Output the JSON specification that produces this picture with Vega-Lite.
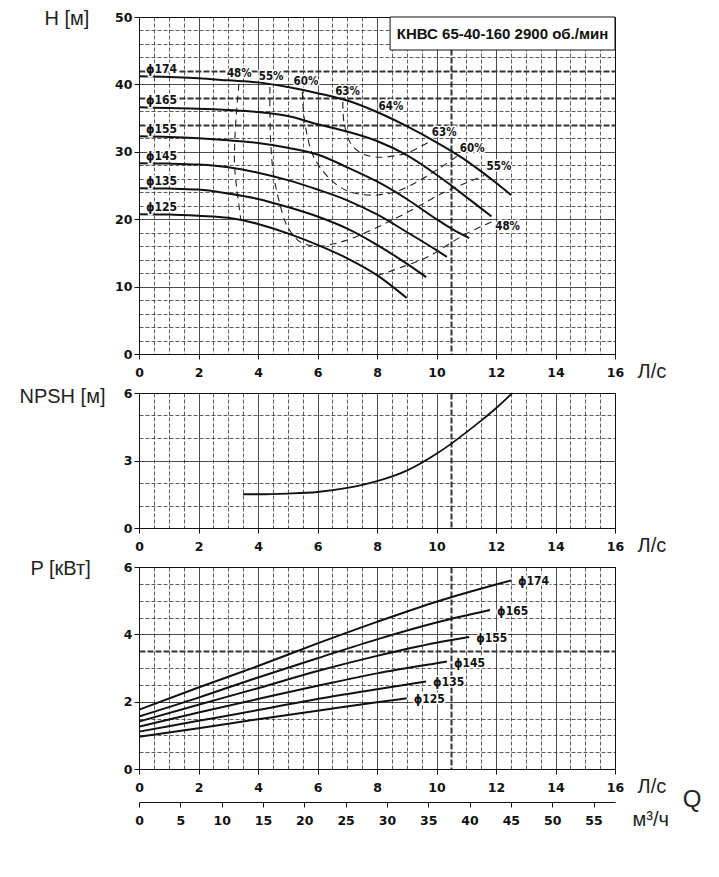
{
  "$schema": "https://vega.github.io/schema/vega-lite/v6.json",
  "background": "white",
  "padding": {"left": 18, "top": 7, "right": 5, "bottom": 5},
  "bounds": "flush",
  "spacing": 39,
  "datasets": {
    "head": [
      {"d": "ϕ174", "q": 0, "h": 41.2}, {"d": "ϕ174", "q": 1, "h": 41.1}, {"d": "ϕ174", "q": 2, "h": 40.9}, {"d": "ϕ174", "q": 3, "h": 40.6},
      {"d": "ϕ174", "q": 4, "h": 40.3}, {"d": "ϕ174", "q": 5, "h": 39.6}, {"d": "ϕ174", "q": 6, "h": 38.7}, {"d": "ϕ174", "q": 7, "h": 37.6},
      {"d": "ϕ174", "q": 8, "h": 35.9}, {"d": "ϕ174", "q": 9, "h": 33.8}, {"d": "ϕ174", "q": 10, "h": 31.4}, {"d": "ϕ174", "q": 10.5, "h": 30.1},
      {"d": "ϕ174", "q": 11, "h": 28.7}, {"d": "ϕ174", "q": 11.5, "h": 27.1}, {"d": "ϕ174", "q": 12, "h": 25.4}, {"d": "ϕ174", "q": 12.5, "h": 23.6},
      {"d": "ϕ165", "q": 0, "h": 36.6}, {"d": "ϕ165", "q": 1, "h": 36.5}, {"d": "ϕ165", "q": 2, "h": 36.4}, {"d": "ϕ165", "q": 3, "h": 36.2},
      {"d": "ϕ165", "q": 4, "h": 35.9}, {"d": "ϕ165", "q": 5, "h": 35.3}, {"d": "ϕ165", "q": 6, "h": 34.1}, {"d": "ϕ165", "q": 7, "h": 33.0},
      {"d": "ϕ165", "q": 8, "h": 31.6}, {"d": "ϕ165", "q": 9, "h": 29.5}, {"d": "ϕ165", "q": 10, "h": 26.6}, {"d": "ϕ165", "q": 10.5, "h": 25.0},
      {"d": "ϕ165", "q": 11, "h": 23.3}, {"d": "ϕ165", "q": 11.5, "h": 21.6}, {"d": "ϕ165", "q": 11.85, "h": 20.4},
      {"d": "ϕ155", "q": 0, "h": 32.3}, {"d": "ϕ155", "q": 1, "h": 32.2}, {"d": "ϕ155", "q": 2, "h": 32.0}, {"d": "ϕ155", "q": 3, "h": 31.7},
      {"d": "ϕ155", "q": 4, "h": 31.3}, {"d": "ϕ155", "q": 5, "h": 30.6}, {"d": "ϕ155", "q": 6, "h": 29.6}, {"d": "ϕ155", "q": 7, "h": 27.7},
      {"d": "ϕ155", "q": 8, "h": 25.6}, {"d": "ϕ155", "q": 9, "h": 23.0}, {"d": "ϕ155", "q": 10, "h": 20.0}, {"d": "ϕ155", "q": 10.5, "h": 18.6},
      {"d": "ϕ155", "q": 11.1, "h": 17.2},
      {"d": "ϕ145", "q": 0, "h": 28.3}, {"d": "ϕ145", "q": 1, "h": 28.25}, {"d": "ϕ145", "q": 2, "h": 28.1}, {"d": "ϕ145", "q": 3, "h": 27.7},
      {"d": "ϕ145", "q": 4, "h": 26.9}, {"d": "ϕ145", "q": 5, "h": 25.8}, {"d": "ϕ145", "q": 6, "h": 24.4}, {"d": "ϕ145", "q": 7, "h": 22.8},
      {"d": "ϕ145", "q": 8, "h": 20.7}, {"d": "ϕ145", "q": 9, "h": 18.1}, {"d": "ϕ145", "q": 10, "h": 15.4}, {"d": "ϕ145", "q": 10.35, "h": 14.4},
      {"d": "ϕ135", "q": 0, "h": 24.6}, {"d": "ϕ135", "q": 1, "h": 24.55}, {"d": "ϕ135", "q": 2, "h": 24.4}, {"d": "ϕ135", "q": 3, "h": 23.8},
      {"d": "ϕ135", "q": 4, "h": 23.0}, {"d": "ϕ135", "q": 5, "h": 21.8}, {"d": "ϕ135", "q": 6, "h": 20.4}, {"d": "ϕ135", "q": 7, "h": 18.6},
      {"d": "ϕ135", "q": 8, "h": 16.2}, {"d": "ϕ135", "q": 9, "h": 13.4}, {"d": "ϕ135", "q": 9.65, "h": 11.4},
      {"d": "ϕ125", "q": 0, "h": 20.75}, {"d": "ϕ125", "q": 1, "h": 20.7}, {"d": "ϕ125", "q": 2, "h": 20.5}, {"d": "ϕ125", "q": 3, "h": 20.2},
      {"d": "ϕ125", "q": 4, "h": 19.3}, {"d": "ϕ125", "q": 5, "h": 17.9}, {"d": "ϕ125", "q": 6, "h": 16.2}, {"d": "ϕ125", "q": 7, "h": 14.2},
      {"d": "ϕ125", "q": 8, "h": 11.7}, {"d": "ϕ125", "q": 9, "h": 8.3}
    ],
    "eff": [
      {"e": "48L", "i": 0, "q": 3.36, "h": 40.1}, {"e": "48L", "i": 1, "q": 3.28, "h": 36.1}, {"e": "48L", "i": 2, "q": 3.22, "h": 31.6},
      {"e": "48L", "i": 3, "q": 3.21, "h": 28.2}, {"e": "48L", "i": 4, "q": 3.28, "h": 24.7}, {"e": "48L", "i": 5, "q": 3.37, "h": 21.7},
      {"e": "48L", "i": 6, "q": 3.42, "h": 20.0},
      {"e": "48R", "i": 0, "q": 8.0, "h": 11.6}, {"e": "48R", "i": 1, "q": 8.9, "h": 13.0}, {"e": "48R", "i": 2, "q": 9.7, "h": 14.4},
      {"e": "48R", "i": 3, "q": 10.94, "h": 17.7}, {"e": "48R", "i": 4, "q": 11.85, "h": 19.6},
      {"e": "55", "i": 0, "q": 4.4, "h": 39.6}, {"e": "55", "i": 1, "q": 4.4, "h": 36.1}, {"e": "55", "i": 2, "q": 4.43, "h": 31.1},
      {"e": "55", "i": 3, "q": 4.52, "h": 26.7}, {"e": "55", "i": 4, "q": 4.71, "h": 22.7}, {"e": "55", "i": 5, "q": 4.99, "h": 18.9},
      {"e": "55", "i": 6, "q": 5.43, "h": 16.6}, {"e": "55", "i": 7, "q": 6.0, "h": 16.0}, {"e": "55", "i": 8, "q": 6.6, "h": 16.4},
      {"e": "55", "i": 9, "q": 7.24, "h": 17.3}, {"e": "55", "i": 10, "q": 8.2, "h": 19.2}, {"e": "55", "i": 11, "q": 9.14, "h": 21.3},
      {"e": "55", "i": 12, "q": 10.26, "h": 24.0}, {"e": "55", "i": 13, "q": 11.0, "h": 25.4}, {"e": "55", "i": 14, "q": 11.6, "h": 26.5},
      {"e": "60", "i": 0, "q": 5.49, "h": 38.9}, {"e": "60", "i": 1, "q": 5.55, "h": 35.1}, {"e": "60", "i": 2, "q": 5.8, "h": 30.0},
      {"e": "60", "i": 3, "q": 6.1, "h": 27.6}, {"e": "60", "i": 4, "q": 6.68, "h": 25.0}, {"e": "60", "i": 5, "q": 7.3, "h": 23.8},
      {"e": "60", "i": 6, "q": 8.02, "h": 23.6}, {"e": "60", "i": 7, "q": 8.7, "h": 24.2}, {"e": "60", "i": 8, "q": 9.37, "h": 25.6},
      {"e": "60", "i": 9, "q": 10.04, "h": 27.4}, {"e": "60", "i": 10, "q": 10.71, "h": 29.4},
      {"e": "63", "i": 0, "q": 6.85, "h": 37.4}, {"e": "63", "i": 1, "q": 6.9, "h": 34.1}, {"e": "63", "i": 2, "q": 7.15, "h": 31.0},
      {"e": "63", "i": 3, "q": 7.57, "h": 29.6}, {"e": "63", "i": 4, "q": 8.1, "h": 29.2}, {"e": "63", "i": 5, "q": 8.58, "h": 29.4},
      {"e": "63", "i": 6, "q": 9.03, "h": 29.85}, {"e": "63", "i": 7, "q": 9.8, "h": 31.6}
    ],
    "effLabels": [
      {"t": "48%", "q": 3.37, "h": 41.6}, {"t": "55%", "q": 4.44, "h": 41.1}, {"t": "60%", "q": 5.61, "h": 40.3},
      {"t": "63%", "q": 7.01, "h": 38.9}, {"t": "64%", "q": 8.47, "h": 36.6}, {"t": "63%", "q": 10.26, "h": 32.8},
      {"t": "60%", "q": 11.2, "h": 30.4}, {"t": "55%", "q": 12.1, "h": 27.7}, {"t": "48%", "q": 12.39, "h": 18.8}
    ],
    "box": [
      {"q": 8.44, "q2": 16, "h": 45.1, "h2": 50}
    ],
    "boxText": [
      {"t": "КНВС 65-40-160 2900 об./мин", "q": 12.22, "h": 47.55}
    ],
    "npsh": [
      {"q": 3.5, "h": 1.5}, {"q": 4, "h": 1.5}, {"q": 5, "h": 1.53}, {"q": 6, "h": 1.6}, {"q": 7, "h": 1.78},
      {"q": 8, "h": 2.08}, {"q": 9, "h": 2.55}, {"q": 10, "h": 3.3}, {"q": 10.5, "h": 3.75}, {"q": 11, "h": 4.25},
      {"q": 11.5, "h": 4.77}, {"q": 12, "h": 5.32}, {"q": 12.55, "h": 6.0}
    ],
    "power": [
      {"d": "ϕ174", "q": 0, "h": 1.76}, {"d": "ϕ174", "q": 2, "h": 2.42}, {"d": "ϕ174", "q": 4, "h": 3.06}, {"d": "ϕ174", "q": 6, "h": 3.73},
      {"d": "ϕ174", "q": 8, "h": 4.37}, {"d": "ϕ174", "q": 10, "h": 4.97}, {"d": "ϕ174", "q": 12, "h": 5.48}, {"d": "ϕ174", "q": 12.5, "h": 5.6},
      {"d": "ϕ165", "q": 0, "h": 1.56}, {"d": "ϕ165", "q": 2, "h": 2.12}, {"d": "ϕ165", "q": 4, "h": 2.72}, {"d": "ϕ165", "q": 6, "h": 3.29},
      {"d": "ϕ165", "q": 8, "h": 3.85}, {"d": "ϕ165", "q": 10, "h": 4.35}, {"d": "ϕ165", "q": 11.8, "h": 4.72},
      {"d": "ϕ155", "q": 0, "h": 1.41}, {"d": "ϕ155", "q": 2, "h": 1.91}, {"d": "ϕ155", "q": 4, "h": 2.4}, {"d": "ϕ155", "q": 6, "h": 2.91},
      {"d": "ϕ155", "q": 8, "h": 3.36}, {"d": "ϕ155", "q": 10, "h": 3.75}, {"d": "ϕ155", "q": 11.1, "h": 3.92},
      {"d": "ϕ145", "q": 0, "h": 1.26}, {"d": "ϕ145", "q": 2, "h": 1.68}, {"d": "ϕ145", "q": 4, "h": 2.08}, {"d": "ϕ145", "q": 6, "h": 2.47},
      {"d": "ϕ145", "q": 8, "h": 2.84}, {"d": "ϕ145", "q": 10, "h": 3.14}, {"d": "ϕ145", "q": 10.35, "h": 3.19},
      {"d": "ϕ135", "q": 0, "h": 1.11}, {"d": "ϕ135", "q": 2, "h": 1.43}, {"d": "ϕ135", "q": 4, "h": 1.75}, {"d": "ϕ135", "q": 6, "h": 2.08},
      {"d": "ϕ135", "q": 8, "h": 2.37}, {"d": "ϕ135", "q": 9.65, "h": 2.6},
      {"d": "ϕ125", "q": 0, "h": 0.96}, {"d": "ϕ125", "q": 2, "h": 1.21}, {"d": "ϕ125", "q": 4, "h": 1.48}, {"d": "ϕ125", "q": 6, "h": 1.73},
      {"d": "ϕ125", "q": 8, "h": 1.98}, {"d": "ϕ125", "q": 9.0, "h": 2.1}
    ]
  },
  "vconcat": [
    {
      "width": 476,
      "height": 337,
      "encoding": {
        "x": {
          "field": "q", "type": "quantitative",
          "scale": {"domain": [0, 16], "nice": false},
          "axis": {
            "values": [0, 0.5, 1, 1.5, 2, 2.5, 3, 3.5, 4, 4.5, 5, 5.5, 6, 6.5, 7, 7.5, 8, 8.5, 9, 9.5, 10, 10.5, 11, 11.5, 12, 12.5, 13, 13.5, 14, 14.5, 15, 15.5, 16],
            "labelExpr": "datum.value % 2 === 0 ? format(datum.value, 'd') : ''",
            "grid": true,
            "gridDash": {"condition": [{"test": "datum.value === 10.5", "value": [6, 2]}, {"test": "datum.value % 2 === 0", "value": [1, 0]}], "value": [4, 2]},
            "gridWidth": {"condition": [{"test": "datum.value === 10.5", "value": 2}, {"test": "datum.value % 2 === 0", "value": 1}], "value": 0.8},
            "gridColor": {"condition": {"test": "datum.value % 2 === 0", "value": "#111"}, "value": "#333"},
            "tickOpacity": {"condition": {"test": "datum.value % 2 === 0", "value": 1}, "value": 0},
            "title": "Л/с", "titleAngle": 0, "titleAlign": "left", "titleBaseline": "middle", "titleX": 498, "titleY": 17
          }
        },
        "y": {
          "field": "h", "type": "quantitative",
          "scale": {"domain": [0, 50], "nice": false},
          "axis": {
            "values": [0, 2, 4, 6, 8, 10, 12, 14, 16, 18, 20, 22, 24, 26, 28, 30, 32, 34, 36, 38, 40, 42, 44, 46, 48, 50],
            "labelExpr": "datum.value % 10 === 0 ? format(datum.value, 'd') : ''",
            "grid": true,
            "gridDash": {"condition": [{"test": "datum.value === 34 || datum.value === 38 || datum.value === 42", "value": [6, 2]}, {"test": "datum.value % 10 === 0", "value": [1, 0]}], "value": [4, 2]},
            "gridWidth": {"condition": [{"test": "datum.value === 34 || datum.value === 38 || datum.value === 42", "value": 1.8}, {"test": "datum.value % 10 === 0", "value": 1}], "value": 0.8},
            "gridColor": {"condition": {"test": "datum.value % 10 === 0", "value": "#111"}, "value": "#333"},
            "tickOpacity": {"condition": {"test": "datum.value % 10 === 0", "value": 1}, "value": 0},
            "title": "H [м]", "titleAngle": 0, "titleAlign": "left", "titleBaseline": "middle", "titleX": -95, "titleY": 1
          }
        }
      },
      "layer": [
        {
          "data": {"name": "eff"},
          "mark": {"type": "line", "stroke": "#222", "strokeWidth": 1.1, "strokeDash": [7, 5], "interpolate": "catmull-rom"},
          "encoding": {"detail": {"field": "e"}, "order": {"field": "i", "type": "quantitative"}}
        },
        {
          "data": {"name": "head"},
          "mark": {"type": "line", "stroke": "#111", "strokeWidth": 2, "interpolate": "monotone"},
          "encoding": {"detail": {"field": "d"}}
        },
        {
          "data": {"name": "head"},
          "transform": [{"filter": "datum.q === 0"}],
          "mark": {"type": "text", "align": "left", "baseline": "middle", "dx": 7, "dy": -7, "font": "DejaVu Sans Condensed", "fontWeight": "bold", "fontSize": 12, "fill": "white", "stroke": "white", "strokeWidth": 3},
          "encoding": {"text": {"field": "d"}}
        },
        {
          "data": {"name": "head"},
          "transform": [{"filter": "datum.q === 0"}],
          "mark": {"type": "text", "align": "left", "baseline": "middle", "dx": 7, "dy": -7, "font": "DejaVu Sans Condensed", "fontWeight": "bold", "fontSize": 12, "fill": "#111"},
          "encoding": {"text": {"field": "d"}}
        },
        {
          "data": {"name": "effLabels"},
          "mark": {"type": "text", "align": "center", "baseline": "middle", "font": "DejaVu Sans Condensed", "fontWeight": "bold", "fontSize": 11.5, "fill": "white", "stroke": "white", "strokeWidth": 3},
          "encoding": {"text": {"field": "t"}}
        },
        {
          "data": {"name": "effLabels"},
          "mark": {"type": "text", "align": "center", "baseline": "middle", "font": "DejaVu Sans Condensed", "fontWeight": "bold", "fontSize": 11.5, "fill": "#111"},
          "encoding": {"text": {"field": "t"}}
        },
        {
          "data": {"name": "box"},
          "mark": {"type": "rect", "fill": "white", "stroke": "#111", "strokeWidth": 1},
          "encoding": {
            "x2": {"field": "q2"},
            "y2": {"field": "h2"}
          }
        },
        {
          "data": {"name": "boxText"},
          "mark": {"type": "text", "font": "Liberation Sans", "fontWeight": "bold", "fontSize": 15, "fill": "#111", "align": "center", "baseline": "middle"},
          "encoding": {"text": {"field": "t"}}
        }
      ]
    },
    {
      "width": 476,
      "height": 135,
      "data": {"name": "npsh"},
      "mark": {"type": "line", "stroke": "#111", "strokeWidth": 1.8, "interpolate": "monotone"},
      "encoding": {
        "x": {
          "field": "q", "type": "quantitative",
          "scale": {"domain": [0, 16], "nice": false},
          "axis": {
            "values": [0, 0.5, 1, 1.5, 2, 2.5, 3, 3.5, 4, 4.5, 5, 5.5, 6, 6.5, 7, 7.5, 8, 8.5, 9, 9.5, 10, 10.5, 11, 11.5, 12, 12.5, 13, 13.5, 14, 14.5, 15, 15.5, 16],
            "labelExpr": "datum.value % 2 === 0 ? format(datum.value, 'd') : ''",
            "grid": true,
            "gridDash": {"condition": [{"test": "datum.value === 10.5", "value": [6, 2]}, {"test": "datum.value % 2 === 0", "value": [1, 0]}], "value": [4, 2]},
            "gridWidth": {"condition": [{"test": "datum.value === 10.5", "value": 2}, {"test": "datum.value % 2 === 0", "value": 1}], "value": 0.8},
            "gridColor": {"condition": {"test": "datum.value % 2 === 0", "value": "#111"}, "value": "#333"},
            "tickOpacity": {"condition": {"test": "datum.value % 2 === 0", "value": 1}, "value": 0},
            "title": "Л/с", "titleAngle": 0, "titleAlign": "left", "titleBaseline": "middle", "titleX": 498, "titleY": 17
          }
        },
        "y": {
          "field": "h", "type": "quantitative",
          "scale": {"domain": [0, 6], "nice": false},
          "axis": {
            "values": [0, 1, 2, 3, 4, 5, 6],
            "labelExpr": "datum.value % 3 === 0 ? format(datum.value, 'd') : ''",
            "grid": true,
            "gridDash": {"condition": {"test": "datum.value % 3 === 0", "value": [1, 0]}, "value": [4, 2]},
            "gridWidth": {"condition": {"test": "datum.value % 3 === 0", "value": 1}, "value": 0.8},
            "gridColor": {"condition": {"test": "datum.value % 3 === 0", "value": "#111"}, "value": "#333"},
            "tickOpacity": {"condition": {"test": "datum.value % 3 === 0", "value": 1}, "value": 0},
            "title": "NPSH [м]", "titleAngle": 0, "titleAlign": "left", "titleBaseline": "middle", "titleX": -120, "titleY": 3
          }
        }
      }
    },
    {
      "width": 476,
      "height": 202,
      "data": {"name": "power"},
      "encoding": {
        "x": {
          "field": "q", "type": "quantitative",
          "scale": {"domain": [0, 16], "nice": false},
          "axis": {
            "values": [0, 0.5, 1, 1.5, 2, 2.5, 3, 3.5, 4, 4.5, 5, 5.5, 6, 6.5, 7, 7.5, 8, 8.5, 9, 9.5, 10, 10.5, 11, 11.5, 12, 12.5, 13, 13.5, 14, 14.5, 15, 15.5, 16],
            "labelExpr": "datum.value % 2 === 0 ? format(datum.value, 'd') : ''",
            "grid": true,
            "gridDash": {"condition": [{"test": "datum.value === 10.5", "value": [6, 2]}, {"test": "datum.value % 2 === 0", "value": [1, 0]}], "value": [4, 2]},
            "gridWidth": {"condition": [{"test": "datum.value === 10.5", "value": 2}, {"test": "datum.value % 2 === 0", "value": 1}], "value": 0.8},
            "gridColor": {"condition": {"test": "datum.value % 2 === 0", "value": "#111"}, "value": "#333"},
            "tickOpacity": {"condition": {"test": "datum.value % 2 === 0", "value": 1}, "value": 0},
            "title": "Л/с", "titleAngle": 0, "titleAlign": "left", "titleBaseline": "middle", "titleX": 498, "titleY": 17
          }
        },
        "y": {
          "field": "h", "type": "quantitative",
          "scale": {"domain": [0, 6], "nice": false},
          "axis": {
            "values": [0, 0.5, 1, 1.5, 2, 2.5, 3, 3.5, 4, 4.5, 5, 5.5, 6],
            "labelExpr": "datum.value % 2 === 0 ? format(datum.value, 'd') : ''",
            "grid": true,
            "gridDash": {"condition": [{"test": "datum.value === 3.5", "value": [6, 2]}, {"test": "datum.value % 2 === 0", "value": [1, 0]}], "value": [4, 2]},
            "gridWidth": {"condition": [{"test": "datum.value === 3.5", "value": 2}, {"test": "datum.value % 2 === 0", "value": 1}], "value": 0.8},
            "gridColor": {"condition": {"test": "datum.value % 2 === 0", "value": "#111"}, "value": "#333"},
            "tickOpacity": {"condition": {"test": "datum.value % 2 === 0", "value": 1}, "value": 0},
            "title": "P [кВт]", "titleAngle": 0, "titleAlign": "left", "titleBaseline": "middle", "titleX": -109, "titleY": 1
          }
        }
      },
      "layer": [
        {
          "mark": {"type": "line", "stroke": "#111", "strokeWidth": 2, "interpolate": "monotone"},
          "encoding": {"detail": {"field": "d"}}
        },
        {
          "transform": [
            {"joinaggregate": [{"op": "max", "field": "q", "as": "qmax"}], "groupby": ["d"]},
            {"filter": "datum.q === datum.qmax"}
          ],
          "mark": {"type": "text", "align": "left", "baseline": "middle", "dx": 7, "dy": 1, "font": "DejaVu Sans Condensed", "fontWeight": "bold", "fontSize": 12, "fill": "white", "stroke": "white", "strokeWidth": 3},
          "encoding": {"text": {"field": "d"}}
        },
        {
          "transform": [
            {"joinaggregate": [{"op": "max", "field": "q", "as": "qmax"}], "groupby": ["d"]},
            {"filter": "datum.q === datum.qmax"}
          ],
          "mark": {"type": "text", "align": "left", "baseline": "middle", "dx": 7, "dy": 1, "font": "DejaVu Sans Condensed", "fontWeight": "bold", "fontSize": 12, "fill": "#111"},
          "encoding": {"text": {"field": "d"}}
        }
      ]
    },
    {
      "width": 476,
      "height": 1,
      "view": {"stroke": null},
      "data": {"values": [{}]},
      "mark": {"type": "text", "text": "Q", "font": "Liberation Sans", "fontSize": 24, "fontWeight": "normal", "fill": "#222", "align": "center", "baseline": "middle", "dx": 77, "dy": -9},
      "encoding": {
        "x": {
          "datum": 57.6, "type": "quantitative",
          "scale": {"domain": [0, 57.6], "nice": false},
          "axis": {
            "values": [0, 5, 10, 15, 20, 25, 30, 35, 40, 45, 50, 55],
            "grid": false,
            "offset": -7,
            "title": "м³/ч", "titleAngle": 0, "titleAlign": "left", "titleBaseline": "middle", "titleX": 493, "titleY": 17
          }
        }
      }
    }
  ],
  "config": {
    "view": {"stroke": "#111", "strokeWidth": 1},
    "axis": {
      "labelFont": "DejaVu Sans", "labelFontWeight": "bold", "labelFontSize": 12.5, "labelColor": "#111",
      "titleFont": "Liberation Sans", "titleFontWeight": "normal", "titleFontSize": 20, "titleColor": "#222",
      "domainColor": "#111", "tickColor": "#111", "tickSize": 5, "labelOverlap": false, "labelFlush": false, "labelBound": false, "gridOpacity": 1
    },
    "axisX": {"labelPadding": 7},
    "axisY": {"labelPadding": 2}
  }
}
